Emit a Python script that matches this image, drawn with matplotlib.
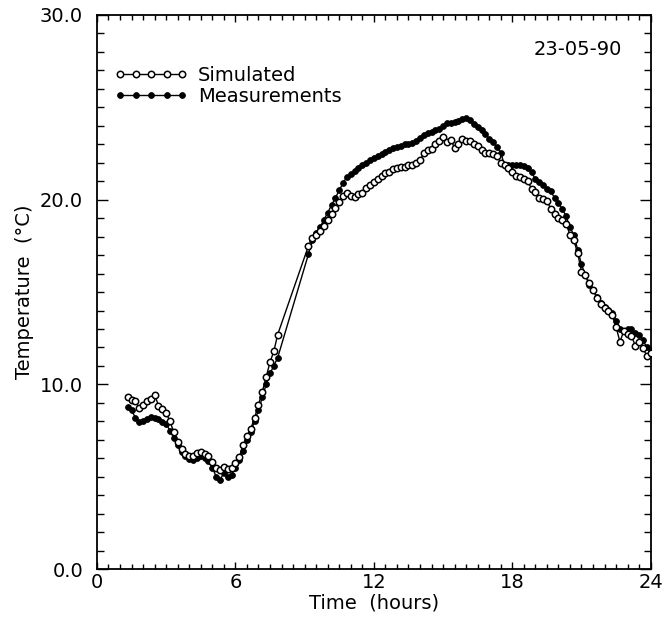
import numpy as np
import matplotlib
matplotlib.use('Agg')
import matplotlib.pyplot as plt
from matplotlib.ticker import MultipleLocator, FormatStrFormatter

# sample times (minutes after midnight), 10 min logging, gap 07:50-09:10
t_morning = [80, 90, 100, 110, 120, 130, 140, 150, 160, 170,
             180, 190, 200, 210, 220, 230, 240, 250, 260, 270,
             280, 290, 300, 310, 320, 330, 340, 350, 360, 370,
             380, 390, 400, 410, 420, 430, 440, 450, 460, 470]
t_day = [550, 560, 570, 580, 590, 600, 610, 620, 630, 640,
         650, 660, 670, 680, 690, 700, 710, 720, 730, 740,
         750, 760, 770, 780, 790, 800, 810, 820, 830, 840,
         850, 860, 870, 880, 890, 900, 910, 920, 930, 940,
         950, 960, 970, 980, 990, 1000, 1010, 1020, 1030, 1040,
         1050, 1060, 1070, 1080, 1090, 1100, 1110, 1120, 1130, 1140,
         1150, 1160, 1170, 1180, 1190, 1200, 1210, 1220, 1230, 1240,
         1250, 1260, 1270, 1280, 1290, 1300, 1310, 1320, 1330, 1340,
         1350, 1360, 1370, 1380, 1390, 1400, 1410, 1420, 1430, 1440]

# simulated temperature (deg C)
sim_morning = [9.3, 9.15, 9.1, 8.7, 8.9, 9.1, 9.2, 9.45, 8.85, 8.65,
               8.45, 8.0, 7.4, 6.9, 6.5, 6.25, 6.1, 6.15, 6.3, 6.35,
               6.25, 6.15, 5.8, 5.5, 5.35, 5.55, 5.4, 5.45, 5.75, 6.05,
               6.7, 7.2, 7.6, 8.2, 8.9, 9.6, 10.4, 11.2, 11.8, 12.7]
sim_day = [17.5, 17.9, 18.1, 18.3, 18.6, 18.9, 19.2, 19.55, 19.9, 20.2,
           20.35, 20.2, 20.15, 20.3, 20.35, 20.65, 20.8, 20.95, 21.1, 21.3,
           21.45, 21.5, 21.65, 21.7, 21.75, 21.75, 21.85, 21.9, 22.0, 22.15,
           22.5, 22.7, 22.75, 23.0, 23.2, 23.4, 23.1, 23.25, 22.8, 23.0,
           23.3, 23.2, 23.15, 23.0, 22.9, 22.7, 22.55, 22.5, 22.45, 22.35,
           22.0, 21.85, 21.7, 21.5, 21.3, 21.2, 21.1, 21.0, 20.6, 20.4,
           20.1, 20.05, 19.95, 19.5, 19.2, 19.0, 18.9, 18.7, 18.1, 17.8,
           17.1, 16.1, 15.9, 15.5, 15.1, 14.7, 14.35, 14.15, 13.95, 13.75,
           13.1, 12.3, 12.9, 12.75, 12.6, 12.1, 12.3, 11.95, 11.55, 11.7]

# measured temperature (deg C)
meas_morning = [8.75, 8.6, 8.2, 7.95, 8.0, 8.1, 8.25, 8.2, 8.1, 7.95,
                7.85, 7.5, 7.1, 6.7, 6.35, 6.1, 5.95, 5.9, 6.0, 6.1,
                6.0, 5.85, 5.5, 5.0, 4.85, 5.2, 5.0, 5.1, 5.5, 5.9,
                6.4, 7.0, 7.45, 8.0, 8.6, 9.3, 10.0, 10.6, 11.0, 11.45]
meas_day = [17.05, 17.8, 18.2, 18.5, 18.9, 19.3, 19.7, 20.1, 20.5, 20.9,
            21.25, 21.4, 21.55, 21.7, 21.85, 22.0, 22.15, 22.25, 22.35, 22.45,
            22.6, 22.7, 22.8, 22.85, 22.9, 23.0, 23.0, 23.05, 23.2, 23.35,
            23.5, 23.6, 23.65, 23.75, 23.85, 24.0, 24.15, 24.15, 24.2, 24.25,
            24.35, 24.4, 24.3, 24.1, 23.95, 23.75, 23.55, 23.3, 23.1, 22.85,
            22.55, 21.85, 21.9, 21.85, 21.85, 21.9, 21.8, 21.7, 21.5, 21.1,
            20.95, 20.8, 20.6, 20.45, 20.1, 19.8, 19.5, 19.1, 18.5, 18.1,
            17.3, 16.5, 15.9, 15.4, 15.1, 14.75, 14.4, 14.2, 14.05, 13.85,
            13.45, 13.0, 12.9, 13.0, 13.0, 12.8, 12.7, 12.4, 12.0, 11.8]

date_label = '23-05-90'

t_hours = np.array(t_morning + t_day) / 60.0
sim = np.array(sim_morning + sim_day)
meas = np.array(meas_morning + meas_day)

plt.rcParams['font.family'] = 'DejaVu Sans'
fs = 14

fig = plt.figure(figsize=(6.64, 6.22), dpi=100)
ax = fig.add_axes([0.146, 0.085, 0.834, 0.891])

ax.plot(t_hours, sim, '-o', color='black', lw=1.0, ms=4.6, mfc='white',
        mec='black', mew=1.1, label='Simulated', zorder=3)
ax.plot(t_hours, meas, '-o', color='black', lw=1.0, ms=4.2, mfc='black',
        mec='black', mew=0.6, label='Measurements', zorder=2)

ax.set_xlim(0, 24)
ax.set_ylim(0, 30)
ax.xaxis.set_major_locator(MultipleLocator(6))
ax.xaxis.set_minor_locator(MultipleLocator(0.5))
ax.yaxis.set_major_locator(MultipleLocator(10))
ax.yaxis.set_minor_locator(MultipleLocator(1))
ax.yaxis.set_major_formatter(FormatStrFormatter('%.1f'))

ax.tick_params(which='both', direction='in', top=True, right=True,
               width=1.0, labelsize=fs)
ax.tick_params(which='major', axis='y', length=8)
ax.tick_params(which='minor', axis='y', length=5)
ax.tick_params(which='major', axis='x', length=5)
ax.tick_params(which='minor', axis='x', length=3.5)
ax.tick_params(axis='x', pad=3)
ax.tick_params(axis='y', pad=10)
for s in ax.spines.values():
    s.set_linewidth(1.3)

ax.set_xlabel('Time  (hours)', fontsize=fs, labelpad=1)
ax.set_ylabel('Temperature  (°C)', fontsize=fs, labelpad=4)

ax.text(0.948, 0.937, date_label, transform=ax.transAxes, ha='right',
        va='center', fontsize=fs)

ax.legend(loc='upper left', bbox_to_anchor=(0.0, 0.94), numpoints=5,
          handlelength=3.8, handletextpad=0.5, labelspacing=0.1,
          frameon=False, fontsize=fs, borderaxespad=0.5)

fig.savefig('out.png', dpi=100)
